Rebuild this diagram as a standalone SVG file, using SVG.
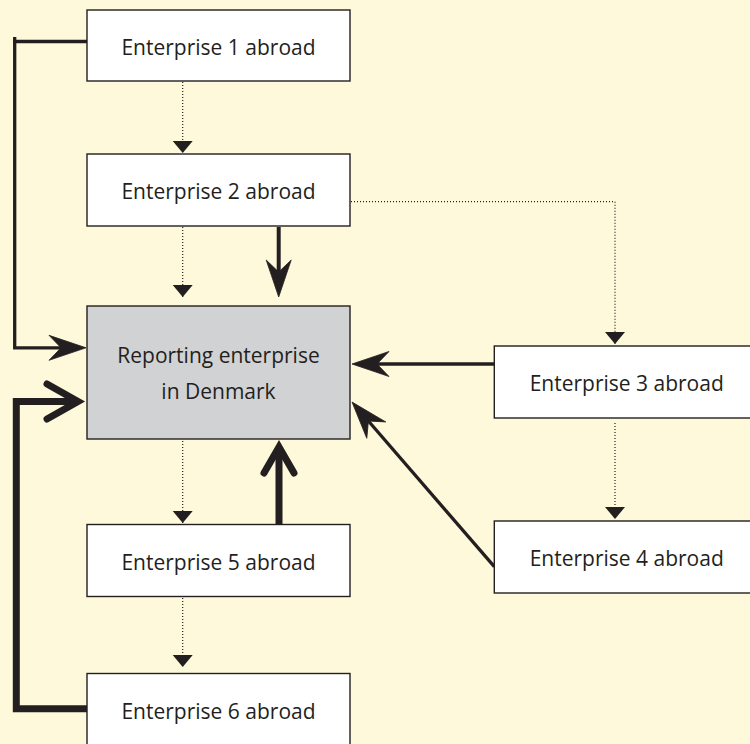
<svg xmlns="http://www.w3.org/2000/svg" width="750" height="744" viewBox="0 0 750 744">
<defs>
<style>
.box{fill:#ffffff;stroke:#231f20;stroke-width:1.4}
.main{fill:#d1d2d4;stroke:#231f20;stroke-width:1.4}
.lbl{font-family:"Open Sans","Noto Sans","DejaVu Sans",sans-serif;font-size:21px;fill:#231f20;text-anchor:middle}
.dot{fill:none;stroke:#231f20;stroke-width:1.2;stroke-dasharray:1 2}
.thin{fill:none;stroke:#231f20;stroke-width:3.3}
.thick{fill:none;stroke:#231f20;stroke-width:7;stroke-linejoin:miter}
.vhead{fill:none;stroke:#231f20;stroke-width:7;stroke-linecap:round;stroke-linejoin:miter;stroke-miterlimit:10}
</style>
<marker id="tri" markerUnits="userSpaceOnUse" markerWidth="14" markerHeight="22" viewBox="-13 -11 14 22" refX="0" refY="0" orient="auto">
<path d="M0,0 L-12,-10 L-12,10 Z" fill="#231f20"/>
</marker>
<marker id="barb" markerUnits="userSpaceOnUse" markerWidth="42" markerHeight="30" viewBox="-14 -15 42 30" refX="0" refY="0" orient="auto">
<path d="M25,0 L-12,-12.5 L0,0 L-12,12.5 Z" fill="#231f20" stroke="#231f20" stroke-width="0.8" stroke-linejoin="miter"/>
</marker>
</defs>
<rect x="0" y="0" width="750" height="744" fill="#fef9da"/>
<g id="connectors">
<path class="dot" d="M182.7,82 V153" marker-end="url(#tri)"/>
<path class="dot" d="M182.7,227 V297" marker-end="url(#tri)"/>
<path class="dot" d="M351,201.7 H615 V344" marker-end="url(#tri)"/>
<path class="dot" d="M182.7,441 V523" marker-end="url(#tri)"/>
<path class="dot" d="M182.7,598 V667" marker-end="url(#tri)"/>
<path class="dot" d="M615,423 V519" marker-end="url(#tri)"/>
<path class="thin" d="M87,41.5 H13"/>
<path class="thin" d="M14.7,37 V347.8 H61" marker-end="url(#barb)"/>
<path class="thin" d="M278.7,227 V272" marker-end="url(#barb)" style="stroke-width:4"/>
<path class="thin" d="M494,364 H377" marker-end="url(#barb)"/>
<path class="thin" d="M494.3,566.7 L368.4,421" marker-end="url(#barb)"/>
<path class="thick" d="M279,524 V452"/>
<path class="vhead" d="M264,473 L279,447 L294,473"/>
<path class="thick" d="M87,708.7 H16.3 V401.5 H72"/>
<path class="vhead" d="M47,384 L78,401.5 L47,419"/>
</g>
<g id="e1"><rect class="box" x="87" y="10" width="263" height="71"/><text class="lbl" x="218.5" y="55">Enterprise 1 abroad</text></g>
<g id="e2"><rect class="box" x="87" y="154" width="263" height="72"/><text class="lbl" x="218.5" y="199">Enterprise 2 abroad</text></g>
<g id="rep"><rect class="main" x="87" y="306" width="263" height="133"/><text class="lbl" x="218.5" y="362.7">Reporting enterprise</text><text class="lbl" x="218.5" y="399.3">in Denmark</text></g>
<g id="e3"><rect class="box" x="494.3" y="346" width="265" height="72"/><text class="lbl" x="626.7" y="390.7">Enterprise 3 abroad</text></g>
<g id="e4"><rect class="box" x="494.3" y="521" width="265" height="72"/><text class="lbl" x="626.7" y="565.7">Enterprise 4 abroad</text></g>
<g id="e5"><rect class="box" x="87" y="524.5" width="263" height="72"/><text class="lbl" x="218.5" y="570">Enterprise 5 abroad</text></g>
<g id="e6"><rect class="box" x="87" y="673.5" width="263" height="80"/><text class="lbl" x="218.5" y="718.7">Enterprise 6 abroad</text></g>
</svg>
